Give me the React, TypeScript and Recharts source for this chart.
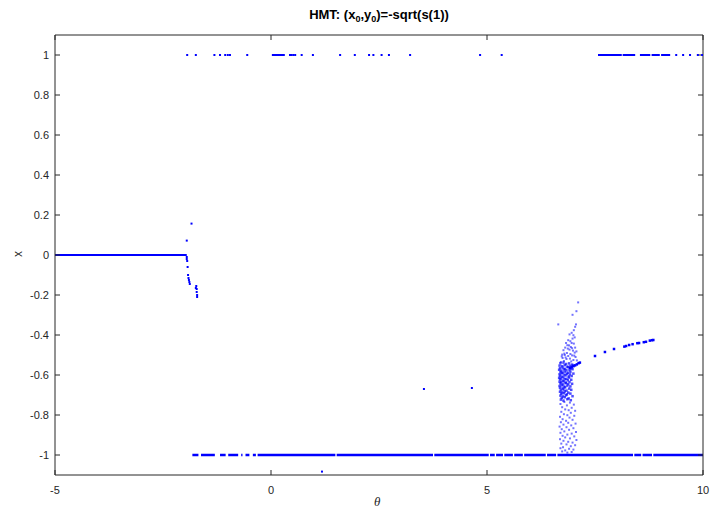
import { ComposedChart, Line, Scatter, XAxis, YAxis } from "recharts";

// plain MATLAB-ish blue
const BLUE = "#0000ff";
const INK = "#262626";
const FONT = "'Liberation Sans', Arial, sans-serif";

const X_TICKS = [-5, 0, 5, 10];
const Y_TICKS = [-1, -0.8, -0.6, -0.4, -0.2, 0, 0.2, 0.4, 0.6, 0.8, 1];

// continuous runs, [theta start, theta end]
const ZERO_SEGMENTS = [[-5, -1.95]];
const BOTTOM_SEGMENTS = [
  [-1.82, -1.68], [-1.62, -1.3], [-1.18, -1.05], [-0.99, -0.76], [-0.69, -0.66],
  [-0.59, -0.5], [-0.42, -0.35], [-0.31, 1.49], [1.52, 3.75], [3.78, 5.04],
  [5.07, 5.18], [5.21, 5.37], [5.4, 5.6], [5.63, 5.83], [5.86, 6.36],
  [6.39, 6.6], [6.63, 8.38], [8.41, 8.57], [8.6, 8.82], [8.85, 10],
];
const TOP_SEGMENTS = [[0.02, 0.32], [7.57, 8.12], [8.14, 8.43], [8.54, 8.78], [8.81, 9.0], [9.03, 9.24]];

// isolated hits on x = 1
const TOP_POINTS = [
  -1.94, -1.74, -1.31, -1.18, -1.06, -1.0, -0.95, -0.55, 0.44, 0.48, 0.52, 0.56,
  0.71, 0.97, 1.6, 1.94, 2.27, 2.37, 2.56, 2.73, 3.22, 4.84, 5.34, 9.38, 9.54, 9.7, 9.88, 9.98,
];

const LEFT_BRANCH = [
  [-1.84, 0.157], [-1.95, 0.072], [-1.95, -0.01], [-1.95, -0.02], [-1.94, -0.03],
  [-1.93, -0.06], [-1.92, -0.1], [-1.91, -0.115], [-1.9, -0.125], [-1.89, -0.135],
  [-1.88, -0.145], [-1.74, -0.165], [-1.73, -0.155], [-1.72, -0.17], [-1.72, -0.185],
  [-1.71, -0.2], [-1.71, -0.21],
];

const STRAY_POINTS = [[3.54, -0.67], [4.65, -0.665], [1.18, -1.083]];

const ARC = [
  [6.92, -0.565], [6.96, -0.56], [7.0, -0.556], [7.04, -0.552], [7.08, -0.547],
  [7.12, -0.541], [7.15, -0.538], [7.5, -0.505], [7.73, -0.485], [7.94, -0.47],
  [8.18, -0.458], [8.22, -0.455], [8.29, -0.45], [8.37, -0.446], [8.48, -0.441],
  [8.52, -0.44], [8.63, -0.436], [8.68, -0.434], [8.77, -0.428], [8.82, -0.426], [8.85, -0.425],
];

const CLUSTER_UPPER = [
  [7.11, -0.237], [7.07, -0.281], [6.98, -0.299], [6.65, -0.347], [7.06, -0.347],
  [7.04, -0.359], [7.01, -0.376], [6.96, -0.389], [6.91, -0.397], [7.0, -0.401],
  [6.98, -0.418], [6.88, -0.426], [6.83, -0.44], [6.96, -0.44], [7.01, -0.443],
  [6.86, -0.451], [6.94, -0.46], [6.81, -0.463], [7.04, -0.463], [6.91, -0.473],
  [6.99, -0.478], [6.77, -0.476], [7.03, -0.488], [6.85, -0.49], [6.93, -0.495],
  [6.8, -0.5], [6.88, -0.505], [6.97, -0.502], [7.05, -0.51], [6.75, -0.515],
  [6.84, -0.52], [6.92, -0.518], [7.0, -0.525], [6.78, -0.53], [6.95, -0.532], [6.71, -0.535],
  [7.03, -0.412], [6.93, -0.431], [6.9, -0.452], [7.07, -0.482], [6.79, -0.493],
  [6.73, -0.507], [7.02, -0.503], [6.87, -0.468], [6.97, -0.466], [6.82, -0.512],
  [7.08, -0.527], [6.74, -0.498],
];

const CLUSTER_CORE = [
  [6.7, -0.541], [6.77, -0.538], [6.83, -0.545], [6.9, -0.542], [6.97, -0.548],
  [6.68, -0.553], [6.74, -0.556], [6.8, -0.551], [6.86, -0.558], [6.93, -0.554], [7.0, -0.552],
  [6.69, -0.566], [6.75, -0.563], [6.81, -0.569], [6.88, -0.561], [6.95, -0.567],
  [6.67, -0.574], [6.72, -0.578], [6.78, -0.572], [6.84, -0.577], [6.91, -0.575], [6.98, -0.571],
  [6.7, -0.585], [6.75, -0.588], [6.8, -0.583], [6.87, -0.589], [6.93, -0.584],
  [6.68, -0.596], [6.73, -0.592], [6.79, -0.598], [6.85, -0.594], [6.92, -0.597], [7.0, -0.593],
  [6.69, -0.604], [6.74, -0.608], [6.82, -0.602], [6.89, -0.607], [6.96, -0.605],
  [6.67, -0.614], [6.71, -0.617], [6.77, -0.612], [6.84, -0.619], [6.9, -0.613],
  [6.69, -0.623], [6.75, -0.628], [6.8, -0.621], [6.87, -0.626], [6.95, -0.624],
  [6.68, -0.634], [6.72, -0.637], [6.78, -0.632], [6.83, -0.638], [6.91, -0.635],
  [6.7, -0.643], [6.76, -0.647], [6.82, -0.641], [6.88, -0.646], [6.97, -0.644],
  [6.68, -0.655], [6.73, -0.652], [6.79, -0.658], [6.86, -0.653], [6.93, -0.657],
  [6.69, -0.664], [6.75, -0.667], [6.81, -0.662], [6.9, -0.668],
  [6.71, -0.675], [6.77, -0.672], [6.84, -0.678], [6.95, -0.674],
  [6.69, -0.684], [6.74, -0.687], [6.8, -0.682], [6.88, -0.688],
  [6.72, -0.694], [6.78, -0.691], [6.85, -0.697], [6.93, -0.693],
  [6.7, -0.703], [6.76, -0.707], [6.83, -0.701], [6.98, -0.706],
  [6.73, -0.714], [6.8, -0.711], [6.89, -0.717],
  [6.71, -0.723], [6.77, -0.728], [6.86, -0.721], [6.94, -0.726],
];

const CLUSTER_LOWER = [
  [6.79, -0.735], [6.92, -0.738], [6.7, -0.745], [7.01, -0.748], [6.85, -0.752],
  [6.74, -0.761], [6.96, -0.764], [6.81, -0.772], [6.89, -0.776], [7.04, -0.779],
  [6.72, -0.784], [6.94, -0.789], [6.78, -0.796], [6.86, -0.801], [7.02, -0.804],
  [6.69, -0.809], [6.91, -0.813], [6.75, -0.821], [6.98, -0.824], [6.83, -0.829],
  [6.71, -0.836], [6.88, -0.839], [7.05, -0.843], [6.77, -0.848], [6.95, -0.852],
  [6.68, -0.858], [6.84, -0.861], [7.0, -0.866], [6.73, -0.871], [6.9, -0.874],
  [6.79, -0.882], [7.06, -0.885], [6.7, -0.889], [6.96, -0.893], [6.86, -0.898],
  [6.75, -0.904], [7.02, -0.907], [6.81, -0.912], [6.92, -0.917], [6.69, -0.921],
  [7.07, -0.925], [6.77, -0.929], [6.88, -0.934], [6.98, -0.938], [6.72, -0.943],
  [6.84, -0.947], [7.04, -0.951], [6.94, -0.956], [6.76, -0.961], [6.7, -0.966],
  [6.9, -0.969], [7.0, -0.973], [6.81, -0.977], [6.74, -0.982], [6.96, -0.985], [6.86, -0.988],
];

const runs = (segs: number[][], y: number) =>
  segs.flatMap(([a, b]) => [{ x: a, y }, { x: b, y }, { x: b, y: null }]);
const pts = (rows: number[][]) => rows.map(([x, y]) => ({ x, y }));

const dot = (size: number, opacity: number) => (p: any) => {
  if (p.cx == null || p.cy == null) return <g />;
  return <rect x={p.cx - size / 2} y={p.cy - size / 2} width={size} height={size} fill={BLUE} fillOpacity={opacity} />;
};
const hidden = () => <g />;

const tickStyle = { fill: INK, fontSize: 11, fontFamily: FONT };
const blank = () => "";

export default function App() {
  return (
    <div style={{ position: "relative", width: 712, height: 516, background: "#fff", fontFamily: FONT }}>
      <style>{"body{margin:0}"}</style>
      <div
        style={{
          position: "absolute", left: 55, width: 648, top: 7, textAlign: "center",
          fontWeight: "bold", fontSize: 13, lineHeight: "16px", color: "#000",
        }}
      >
        HMT: (x<sub style={{ fontSize: 9, verticalAlign: -3 }}>0</sub>,y
        <sub style={{ fontSize: 9, verticalAlign: -3 }}>0</sub>)=-sqrt(s(1))
      </div>
      <div
        style={{
          position: "absolute", left: 15, top: 247, fontSize: 12, color: INK,
          transform: "rotate(-90deg)", lineHeight: "14px",
        }}
      >
        x
      </div>
      <div
        style={{
          position: "absolute", left: 374, top: 495, fontSize: 13, color: INK,
          fontStyle: "italic", fontFamily: "'Liberation Serif', serif", lineHeight: "14px",
        }}
      >
        θ
      </div>
      <ComposedChart width={712} height={516} margin={{ top: 34, right: 8, bottom: 11, left: 10 }}>
        <XAxis
          type="number" dataKey="x" domain={[-5, 10]} ticks={X_TICKS} allowDataOverflow
          height={30} tickSize={-5} tickMargin={16} tick={tickStyle}
          axisLine={{ stroke: INK }} tickLine={{ stroke: INK }}
        />
        <XAxis
          xAxisId="top" orientation="top" type="number" dataKey="x" domain={[-5, 10]} ticks={X_TICKS}
          allowDataOverflow height={1} tickSize={-5} tickFormatter={blank}
          axisLine={{ stroke: INK }} tickLine={{ stroke: INK }}
        />
        <YAxis
          type="number" dataKey="y" domain={[-1.1, 1.1]} ticks={Y_TICKS} allowDataOverflow
          width={45} tickSize={-5} tickMargin={11} tick={tickStyle} interval={0}
          axisLine={{ stroke: INK }} tickLine={{ stroke: INK }}
        />
        <YAxis
          yAxisId="right" orientation="right" type="number" dataKey="y" domain={[-1.1, 1.1]} ticks={Y_TICKS}
          allowDataOverflow width={1} tickSize={-5} tickFormatter={blank} interval={0}
          axisLine={{ stroke: INK }} tickLine={{ stroke: INK }}
        />

        <Line data={runs(ZERO_SEGMENTS, 0)} dataKey="y" stroke={BLUE} strokeWidth={2} dot={false} isAnimationActive={false} />
        <Line data={runs(BOTTOM_SEGMENTS, -1)} dataKey="y" stroke={BLUE} strokeWidth={2.5} dot={false} isAnimationActive={false} />
        <Line data={runs(TOP_SEGMENTS, 1)} dataKey="y" stroke={BLUE} strokeWidth={2} dot={false} isAnimationActive={false} />

        <Scatter data={TOP_POINTS.map((x) => ({ x, y: 1 }))} shape={dot(2, 1)} isAnimationActive={false} />
        <Scatter data={pts(LEFT_BRANCH)} shape={dot(2, 1)} isAnimationActive={false} />
        <Scatter data={pts(STRAY_POINTS)} shape={dot(2, 1)} isAnimationActive={false} />
        <Scatter data={pts(CLUSTER_UPPER)} shape={dot(2, 0.55)} isAnimationActive={false} />
        <Scatter data={pts(CLUSTER_LOWER)} shape={dot(2, 0.55)} isAnimationActive={false} />
        <Scatter data={pts(CLUSTER_CORE)} shape={dot(2.5, 0.7)} isAnimationActive={false} />
        <Scatter data={pts(ARC)} shape={dot(2.5, 1)} isAnimationActive={false} />
        {/* invisible copy so the top/right frame axes get drawn */}
        <Scatter xAxisId="top" yAxisId="right" data={pts(STRAY_POINTS)} shape={hidden} isAnimationActive={false} />
      </ComposedChart>
    </div>
  );
}
